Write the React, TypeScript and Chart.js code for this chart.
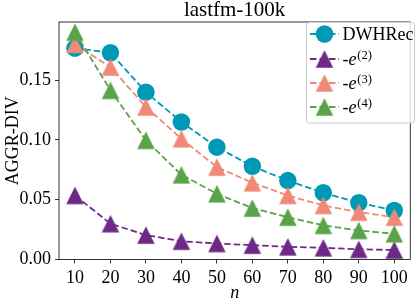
import React, { useEffect, useRef } from "react";
import { Chart, registerables } from "chart.js";

Chart.register(...registerables);

const titleText = "lastfm-100k";
const xLabel = "n";
const yLabel = "AGGR-DIV";
const nValues = [10, 20, 30, 40, 50, 60, 70, 80, 90, 100];
const dwhrec = [0.1768, 0.173, 0.140, 0.115, 0.094, 0.078, 0.066, 0.0558, 0.0475, 0.041];
const e2 = [0.0536, 0.030, 0.0204, 0.0153, 0.0134, 0.012, 0.0106, 0.0098, 0.0085, 0.008];
const e3 = [0.18, 0.161, 0.1276, 0.101, 0.0773, 0.0642, 0.0536, 0.0452, 0.0396, 0.0354];
const e4 = [0.1902, 0.1415, 0.0997, 0.0709, 0.055, 0.043, 0.0354, 0.0285, 0.0243, 0.0215];
const yTicks = [0, 0.05, 0.1, 0.15];
const xTicks = [10, 20, 30, 40, 50, 60, 70, 80, 90, 100];

const seriesNames = ["DWHRec", "e2", "e3", "e4"];
const supers = ["", "(2)", "(3)", "(4)"];
const colors = ["#0099b5", "#6c2a86", "#f08a76", "#5ba34a"];

const SERIF = "'Liberation Serif', 'Times New Roman', serif";
const FS = 18;
const MS = 17.5;

function makeTriangle(color: string, size: number) {
  const c = document.createElement("canvas");
  const s = Math.ceil(size) + 2;
  c.width = s;
  c.height = s;
  const ctx = c.getContext("2d")!;
  const h = size / 2;
  const cx = s / 2;
  const cy = s / 2;
  ctx.beginPath();
  ctx.moveTo(cx, cy - h);
  ctx.lineTo(cx - h, cy + h);
  ctx.lineTo(cx + h, cy + h);
  ctx.closePath();
  ctx.fillStyle = color;
  ctx.fill();
  return c;
}

export default function App() {
  const ref = useRef<HTMLCanvasElement | null>(null);
  useEffect(() => {
    const canvas = ref.current!;
    const tri = colors.map((c) => makeTriangle(c, MS));
    const styles: any[] = ["circle", tri[1], tri[2], tri[3]];
    const values = [dwhrec, e2, e3, e4];
    const dash = [6.5, 3];
    const LW = 1.8;

    const custom = {
      id: "custom",
      beforeDraw(chart: any) {
        const ctx = chart.ctx;
        ctx.save();
        ctx.fillStyle = "#ffffff";
        ctx.fillRect(0, 0, chart.width, chart.height);
        ctx.restore();
      },
      afterDraw(chart: any) {
        const ctx = chart.ctx;
        const a = chart.chartArea;
        ctx.save();
        ctx.strokeStyle = "#000";
        ctx.lineWidth = 0.8;
        ctx.strokeRect(a.left, a.top, a.right - a.left, a.bottom - a.top);
        ctx.fillStyle = "#000";
        ctx.font = `21px ${SERIF}`;
        ctx.textAlign = "center";
        ctx.textBaseline = "alphabetic";
        ctx.fillText(titleText, (a.left + a.right) / 2, 15.5);
        ctx.font = `italic ${FS}px ${SERIF}`;
        ctx.fillText(xLabel, (a.left + a.right) / 2, 298);
        ctx.save();
        ctx.translate(17.5, (a.top + a.bottom) / 2);
        ctx.rotate(-Math.PI / 2);
        ctx.font = `${FS}px ${SERIF}`;
        ctx.fillText(yLabel, 0, 0);
        ctx.restore();
        const bx = 306.5, by = 22.5, bw = 108, bh = 100.5;
        ctx.beginPath();
        ctx.roundRect(bx, by, bw, bh, 3);
        ctx.fillStyle = "rgba(255,255,255,0.8)";
        ctx.fill();
        ctx.strokeStyle = "#cccccc";
        ctx.lineWidth = 1;
        ctx.stroke();
        const rows = [34, 59, 83, 107];
        for (let i = 0; i < 4; i++) {
          const y = rows[i];
          ctx.strokeStyle = colors[i];
          ctx.lineWidth = LW;
          ctx.setLineDash(dash);
          ctx.beginPath();
          ctx.moveTo(310, y);
          ctx.lineTo(339, y);
          ctx.stroke();
          ctx.setLineDash([]);
          if (i === 0) {
            ctx.beginPath();
            ctx.arc(324.5, y, MS / 2, 0, Math.PI * 2);
            ctx.fillStyle = colors[0];
            ctx.fill();
          } else {
            const t = tri[i];
            ctx.drawImage(t, 324.5 - t.width / 2, y - t.height / 2);
          }
          ctx.fillStyle = "#000";
          ctx.textAlign = "left";
          ctx.textBaseline = "alphabetic";
          const base = y + 6;
          if (i === 0) {
            ctx.font = `${FS}px ${SERIF}`;
            ctx.fillText(seriesNames[0], 342.5, base);
          } else {
            ctx.font = `${FS}px ${SERIF}`;
            ctx.fillText("-", 342.5, base);
            let x = 342.5 + ctx.measureText("-").width;
            ctx.font = `italic ${FS}px ${SERIF}`;
            ctx.fillText("e", x, base);
            x += ctx.measureText("e").width + 0.8;
            ctx.font = `${FS * 0.7}px ${SERIF}`;
            ctx.fillText(supers[i], x, base - 6);
          }
        }
        ctx.restore();
      },
    };

    const chart = new Chart(canvas, {
      type: "line",
      data: {
        datasets: values.map((vals, i) => ({
          label: seriesNames[i],
          data: vals.map((v, j) => ({ x: nValues[j], y: v })),
          borderColor: colors[i],
          backgroundColor: colors[i],
          borderWidth: LW,
          borderDash: dash,
          pointStyle: styles[i],
          pointRadius: MS / 2,
          pointBorderWidth: 0,
          pointBackgroundColor: colors[i],
          pointBorderColor: colors[i],
          tension: 0,
          fill: false,
          order: 4 - i,
        })),
      },
      options: {
        responsive: false,
        animation: false,
        events: [],
        layout: { padding: { top: 22, right: 2.3, left: 0, bottom: 0 } },
        plugins: {
          legend: { display: false },
          title: { display: false },
          tooltip: { enabled: false },
        },
        scales: {
          x: {
            type: "linear",
            min: 5.5,
            max: 104.5,
            afterFit: (s: any) => {
              s.height = 40.5;
            },
            afterBuildTicks: (s: any) => {
              s.ticks = xTicks.map((v) => ({ value: v }));
            },
            ticks: {
              autoSkip: false,
              maxRotation: 0,
              padding: 3.5,
              color: "#000",
              font: { family: SERIF, size: FS },
              callback: (v: any) => String(v),
            },
            grid: {
              drawOnChartArea: false,
              drawTicks: true,
              tickLength: 4,
              color: "#000",
              lineWidth: 0.8,
            },
            border: { display: false },
          },
          y: {
            type: "linear",
            min: 0,
            max: 0.1987,
            afterFit: (s: any) => {
              s.width = 59;
            },
            afterBuildTicks: (s: any) => {
              s.ticks = yTicks.map((v) => ({ value: v }));
            },
            ticks: {
              padding: 4,
              color: "#000",
              font: { family: SERIF, size: FS },
              callback: (v: any) => Number(v).toFixed(2),
            },
            grid: {
              drawOnChartArea: false,
              drawTicks: true,
              tickLength: 4,
              color: "#000",
              lineWidth: 0.8,
            },
            border: { display: false },
          },
        },
      },
      plugins: [custom],
    } as any);
    return () => chart.destroy();
  }, []);

  return (
    <div style={{ position: "fixed", left: 0, top: 0, width: 419, height: 300, background: "#fff" }}>
      <canvas ref={ref} width={419} height={300} style={{ display: "block" }} />
    </div>
  );
}
